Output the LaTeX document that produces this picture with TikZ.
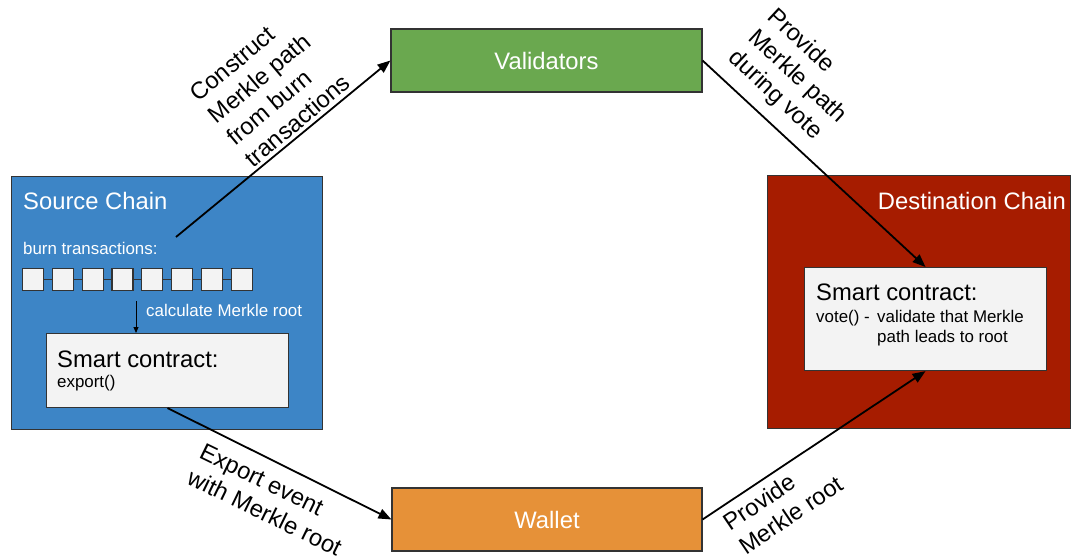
\documentclass[tikz,border=0pt]{standalone}
\usepackage{fontspec}
\setmainfont{Liberation Sans}
\usetikzlibrary{arrows.meta}
\definecolor{srcblue}{HTML}{3D85C6}
\definecolor{valgreen}{HTML}{6AA84F}
\definecolor{dstred}{HTML}{A61C00}
\definecolor{walorange}{HTML}{E69138}
\definecolor{panel}{HTML}{F3F3F3}
\definecolor{edge}{HTML}{333333}
\begin{document}
\begin{tikzpicture}[x=1pt,y=-1pt,
  box/.style={draw=edge, line width=1.1pt, inner sep=0pt, anchor=north west},
  big/.style={font=\fontsize{23.8}{28}\selectfont},
  small/.style={font=\fontsize{16.9}{20}\selectfont},
  txt/.style={inner sep=0pt, anchor=base west},
  flow/.style={line width=1.8pt, -{Triangle[length=13pt,width=10pt]}},
  thinflow/.style={line width=0.9pt, -{Triangle[length=6pt,width=5pt]}},
  lbl/.style={align=left, inner sep=0pt, font=\fontsize{23.8}{28.5}\selectfont},
  cell/.style={box, fill=panel, minimum width=21pt, minimum height=22pt}]
\useasboundingbox (0,0) rectangle (1071,559);

% chain panels
\node[box, fill=srcblue, minimum width=311pt, minimum height=253pt] (src) at (11,176) {};
\node[box, fill=dstred, minimum width=303pt, minimum height=253pt] (dst) at (767,175) {};

% actors
\node[box, fill=valgreen, minimum width=311pt, minimum height=63pt, anchor=center,
      text=white, big] (val) at (546.5,60.5) {Validators};
\node[box, fill=walorange, minimum width=310pt, minimum height=63pt, anchor=center,
      text=white, big] (wal) at (547,519.5) {Wallet};

% panel titles
\node[txt, big, text=white] (srctitle) at (23,209) {Source Chain};
\node[txt, big, text=white, anchor=base east] (dsttitle) at (1066,209) {Destination Chain};

% burn transactions
\node[txt, small, text=white] (burnlbl) at (23,254) {burn transactions:};
\foreach \i in {1,...,8} {
  \node[cell] (sq\i) at ({22+29.8*(\i-1)},268) {};
}
\foreach \i [evaluate=\i as \j using int(\i+1)] in {1,...,7} {
  \draw[edge, line width=0.9pt] (sq\i.east) -- (sq\j.west);
}

% smart contracts
\node[box, fill=panel, minimum width=242pt, minimum height=74pt] (ssc) at (46,333) {};
\node[txt, big] (ssctitle) at (57,367) {Smart contract:};
\node[txt, small] (sscfn) at (57,387) {export()};

\node[box, fill=panel, minimum width=242pt, minimum height=103pt] (dsc) at (804,267) {};
\node[txt, big] (dsctitle) at (816,300) {Smart contract:};
\node[txt, small] (dscfn) at (816,322) {vote() -};
\node[txt, small] (dscdesc1) at (877,322) {validate that Merkle};
\node[txt, small] (dscdesc2) at (877,342) {path leads to root};

% Merkle root step
\coordinate (calcfrom) at (136,301);
\draw[thinflow] (calcfrom) -- (calcfrom |- ssc.north);
\node[txt, small, text=white] (calclbl) at (146,316) {calculate Merkle root};

% message flow
\coordinate (burnout) at (176,237);
\draw[flow] (burnout) -- (val.west);
\draw[flow] (val.east) -- (dsc.north);
\draw[flow] (ssc.south) -- (wal.west);
\draw[flow] (wal.east) -- (dsc.south);

% flow labels
\node[lbl, rotate=40] (l1) at (270,88) {Construct\\Merkle path\\from burn\\transactions};
\node[lbl, rotate=-43] (l2) at (797,77) {Provide\\Merkle path\\during vote};
\node[lbl, rotate=-26] (l3) at (271,500) {Export event\\with Merkle root};
\node[lbl, rotate=34] (l4) at (783,503) {Provide\\Merkle root};
\end{tikzpicture}
\end{document}
